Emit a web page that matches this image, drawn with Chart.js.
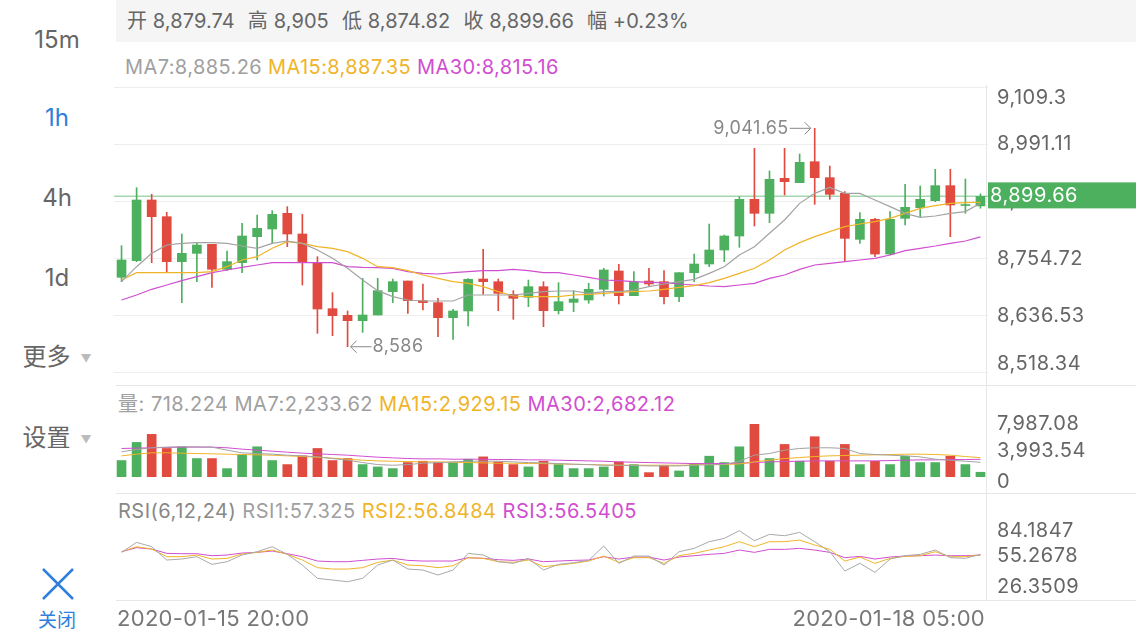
<!DOCTYPE html>
<html>
<head>
<meta charset="utf-8">
<script src="https://cdn.jsdelivr.net/npm/chart.js@4.4.1/dist/chart.umd.min.js"></script>
<style>
  body { margin: 0; width: 1136px; height: 640px; overflow: hidden; background: #fff; position: relative;
         font-family: Inter, "Noto Sans CJK SC", sans-serif; color: #666; }
  .abs { position: absolute; }
  canvas { position: absolute; }
  .side { position: absolute; left: 0; width: 114px; text-align: center; font-size: 24px; line-height: 30px; color: #666; }
  .side.on { color: #2f7fdc; }
  .side .tri { font-size: 11px; color: #bbb; margin-left: 10px; vertical-align: middle; }
  .topbar { left: 116px; top: 0; width: 1020px; height: 42px; background: #f5f5f5; font-size: 20px; line-height: 42px; letter-spacing: 0.1px; white-space: nowrap; }
  .topbar span { margin-left: 13px; }
  .topbar span:first-child { margin-left: 11px; }
  .row { font-size: 20px; line-height: 24px; white-space: nowrap; letter-spacing: 0.4px; }
  .row span { margin-right: 6px; }
  .hline { height: 1px; background: #e6e6e6; left: 116px; width: 1020px; }
  .vline { width: 1px; background: #e6e6e6; left: 986px; top: 85px; height: 515px; }
  .gray { color: #a0a0a0; } .orange { color: #f0b429; } .magenta { color: #d04ed0; }
</style>
</head>
<body>

<div class="side" style="top:25px">15m</div>
<div class="side on" style="top:103px">1h</div>
<div class="side" style="top:183px">4h</div>
<div class="side" style="top:263px">1d</div>
<div class="side" style="top:342px">更多<span class="tri">▼</span></div>
<div class="side" style="top:423px">设置<span class="tri">▼</span></div>
<svg class="abs" style="left:40px;top:566px" width="36" height="36">
  <path d="M3 3 L33 33 M33 3 L3 33" stroke="#2f7fdc" stroke-width="2.5" fill="none"/>
</svg>
<div class="side on" style="top:606px;font-size:19px">关闭</div>

<div class="abs topbar"><span>开 8,879.74</span><span>高 8,905</span><span>低 8,874.82</span><span>收 8,899.66</span><span>幅 +0.23%</span></div>
<div class="abs row" style="left:125px;top:55px"><span class="gray">MA7:8,885.26</span><span class="orange">MA15:8,887.35</span><span class="magenta">MA30:8,815.16</span></div>
<div class="abs row" style="left:118px;top:392px;letter-spacing:0.5px"><span class="gray">量: 718.224</span><span class="gray">MA7:2,233.62</span><span class="orange">MA15:2,929.15</span><span class="magenta">MA30:2,682.12</span></div>
<div class="abs row" style="left:118px;top:499px;letter-spacing:0.5px"><span style="color:#888">RSI(6,12,24)</span><span class="gray">RSI1:57.325</span><span class="orange">RSI2:56.8484</span><span class="magenta">RSI3:56.5405</span></div>

<div class="abs hline" style="top:385px"></div>
<div class="abs hline" style="top:493px"></div>
<div class="abs hline" style="top:600px"></div>
<div class="abs vline"></div>

<canvas id="priceChart" width="1022" height="305" style="left:114px;top:80px"></canvas>
<canvas id="volChart" width="1022" height="108" style="left:114px;top:385px"></canvas>
<canvas id="rsiChart" width="1022" height="147" style="left:114px;top:493px"></canvas>

<script>
// hourly candles, 1h view
const times = [
  '2020-01-15 20:00', '2020-01-15 21:00', '2020-01-15 22:00', '2020-01-15 23:00',
  '2020-01-16 00:00', '2020-01-16 01:00', '2020-01-16 02:00', '2020-01-16 03:00', '2020-01-16 04:00', '2020-01-16 05:00',
  '2020-01-16 06:00', '2020-01-16 07:00', '2020-01-16 08:00', '2020-01-16 09:00', '2020-01-16 10:00', '2020-01-16 11:00',
  '2020-01-16 12:00', '2020-01-16 13:00', '2020-01-16 14:00', '2020-01-16 15:00', '2020-01-16 16:00', '2020-01-16 17:00',
  '2020-01-16 18:00', '2020-01-16 19:00', '2020-01-16 20:00', '2020-01-16 21:00', '2020-01-16 22:00', '2020-01-16 23:00',
  '2020-01-17 00:00', '2020-01-17 01:00', '2020-01-17 02:00', '2020-01-17 03:00', '2020-01-17 04:00', '2020-01-17 05:00',
  '2020-01-17 06:00', '2020-01-17 07:00', '2020-01-17 08:00', '2020-01-17 09:00', '2020-01-17 10:00', '2020-01-17 11:00',
  '2020-01-17 12:00', '2020-01-17 13:00', '2020-01-17 14:00', '2020-01-17 15:00', '2020-01-17 16:00', '2020-01-17 17:00',
  '2020-01-17 18:00', '2020-01-17 19:00', '2020-01-17 20:00', '2020-01-17 21:00', '2020-01-17 22:00', '2020-01-17 23:00',
  '2020-01-18 00:00', '2020-01-18 01:00', '2020-01-18 02:00', '2020-01-18 03:00', '2020-01-18 04:00', '2020-01-18 05:00'
];

const opens = [8730.8, 8765.6, 8892.1, 8857.3, 8763.5, 8780.8, 8799.6, 8747.5, 8761.4, 8815.6,
  8831.6, 8864.3, 8821.2, 8762.1, 8665.4, 8651.5, 8640.4, 8652.2, 8700.9, 8723.1,
  8682.1, 8678.0, 8646.7, 8660.6, 8727.3, 8721.7, 8695.3, 8689.1, 8711.3, 8661.2,
  8678.6, 8683.5, 8705.8, 8744.0, 8692.5, 8723.1, 8721.7, 8690.5, 8740.5, 8758.6,
  8787.8, 8817.0, 8893.5, 8864.3, 8937.3, 8928.2, 8972.0, 8938.7, 8906.0, 8810.0,
  8851.8, 8779.4, 8853.9, 8876.1, 8890.7, 8922.0, 8880.5, 8879.74];
const highs = [8796.8, 8917.8, 8903.9, 8866.4, 8821.2, 8803.8, 8799.6, 8785.7, 8843.4, 8860.8,
  8869.8, 8878.2, 8862.2, 8773.9, 8698.8, 8660.6, 8728.7, 8728.7, 8727.3, 8723.1,
  8716.9, 8687.0, 8664.0, 8728.0, 8789.2, 8727.3, 8703.0, 8725.2, 8721.7, 8719.6,
  8703.0, 8718.3, 8749.6, 8757.9, 8742.6, 8749.6, 8744.7, 8740.5, 8779.5, 8842.0,
  8819.0, 8899.1, 8999.9, 8952.6, 8999.9, 8988.0, 9041.65, 8963.0, 8909.5, 8865.7,
  8853.9, 8867.8, 8924.8, 8921.3, 8956.1, 8956.1, 8935.9, 8905];
const lows = [8721.7, 8763.5, 8761.4, 8740.5, 8678.0, 8721.7, 8709.9, 8744.7, 8740.5, 8767.0,
  8801.7, 8794.7, 8714.8, 8614.0, 8609.1, 8586, 8616.0, 8652.2, 8678.0, 8655.7,
  8662.6, 8607.0, 8601.5, 8629.3, 8695.3, 8661.2, 8643.2, 8669.6, 8627.9, 8654.3,
  8659.2, 8676.6, 8691.8, 8675.2, 8692.5, 8713.4, 8675.2, 8680.0, 8721.7, 8753.0,
  8763.5, 8793.4, 8837.9, 8844.8, 8902.5, 8928.2, 8883.1, 8893.5, 8765.5, 8801.7,
  8773.9, 8777.4, 8840.0, 8857.3, 8888.6, 8815.6, 8864.3, 8874.82];
const closes = [8767.0, 8892.1, 8857.3, 8763.5, 8780.8, 8798.2, 8747.5, 8763.5, 8817.0, 8833.0,
  8862.2, 8821.2, 8761.4, 8664.7, 8650.8, 8640.4, 8652.2, 8703.0, 8721.7, 8682.1,
  8678.0, 8646.7, 8660.6, 8726.6, 8721.7, 8697.4, 8687.0, 8711.3, 8661.2, 8680.0,
  8685.6, 8705.8, 8746.1, 8692.5, 8721.7, 8716.9, 8690.5, 8740.5, 8758.6, 8787.8,
  8817.0, 8893.5, 8864.3, 8935.2, 8930.3, 8970.7, 8938.7, 8903.9, 8812.1, 8851.8,
  8779.4, 8851.8, 8876.8, 8893.5, 8922.0, 8881.7, 8882.4, 8899.66];

const ma7 = [8721.7, 8753.0, 8780.8, 8798.2, 8801.7, 8803.1, 8803.1, 8801.7, 8796.1, 8791.3,
  8801.7, 8806.6, 8801.7, 8787.8, 8770.4, 8749.6, 8725.2, 8703.0, 8690.5, 8683.5,
  8681.4, 8681.4, 8681.4, 8693.9, 8693.9, 8693.9, 8693.9, 8697.4, 8700.9, 8702.3,
  8702.3, 8697.4, 8700.9, 8700.9, 8704.4, 8711.3, 8716.9, 8721.7, 8726.6, 8739.1,
  8753.0, 8777.4, 8794.7, 8822.6, 8850.4, 8885.1, 8906.0, 8918.5, 8906.0, 8906.0,
  8892.1, 8878.2, 8864.3, 8855.9, 8858.7, 8864.3, 8867.8, 8885.26];
const ma15 = [8725.2, 8740.5, 8740.5, 8740.5, 8740.5, 8740.5, 8742.6, 8753.0, 8766.9, 8773.9,
  8791.3, 8805.2, 8801.7, 8794.7, 8791.3, 8784.3, 8770.4, 8753.0, 8750.9, 8744.7,
  8735.6, 8728.7, 8721.7, 8718.3, 8711.3, 8700.9, 8691.8, 8690.5, 8690.5, 8690.5,
  8693.9, 8695.3, 8697.4, 8699.5, 8700.9, 8702.3, 8705.8, 8709.9, 8713.5, 8719.7,
  8728.7, 8739.1, 8749.6, 8766.9, 8787.8, 8803.1, 8815.6, 8826.0, 8836.5, 8842.0,
  8846.9, 8853.9, 8864.3, 8874.7, 8880.3, 8885.1, 8886.5, 8887.35];
const ma30 = [8683.5, 8693.9, 8705.8, 8714.8, 8723.8, 8732.2, 8740.5, 8746.1, 8751.6, 8756.5,
  8761.4, 8761.4, 8761.4, 8761.4, 8761.4, 8753.0, 8751.6, 8750.9, 8749.6, 8742.6,
  8739.1, 8737.7, 8740.5, 8742.6, 8744.7, 8744.7, 8747.5, 8744.7, 8740.5, 8740.5,
  8735.6, 8730.8, 8725.2, 8723.8, 8721.7, 8720.4, 8719.7, 8716.9, 8714.8, 8712.7,
  8711.3, 8714.8, 8718.3, 8728.7, 8735.6, 8747.5, 8756.5, 8760.0, 8763.5, 8766.9,
  8770.4, 8777.4, 8786.4, 8791.3, 8796.1, 8801.7, 8806.6, 8815.16];

const volumes = [2493, 5240, 6460, 4324, 4578, 2798, 2798, 1272, 3408, 4578,
  2493, 1882, 3205, 4324, 2493, 2798, 1882, 1526, 1272, 2187,
  2391, 2187, 2187, 2696, 3052, 2289, 1882, 1526, 2391, 1882,
  1272, 1272, 1526, 2289, 1882, 661, 1780, 916, 2035, 3154,
  2187, 4578, 7987.08, 2798, 4934, 2391, 6104, 2391, 4934, 1882,
  2391, 1882, 3154, 2187, 2187, 3154, 1882, 718.224];
const volMa7 = [3815, 4171, 4426, 4527, 4578, 4578, 4527, 4070, 3663, 3561,
  3459, 3307, 3205, 3052, 2798, 2544, 2187, 1882, 1780, 1882,
  2086, 2187, 2289, 2391, 2391, 2391, 2289, 2187, 2137, 2035,
  1933, 1882, 1780, 1780, 1730, 1679, 1679, 1679, 1780, 1882,
  1882, 2391, 3307, 3561, 4070, 4324, 4426, 4426, 4324, 3561,
  3408, 3307, 3205, 3052, 2696, 2544, 2391, 2233.62];
const volMa15 = [3205, 3459, 3663, 3663, 3612, 3561, 3510, 3459, 3408, 3357,
  3307, 3205, 3103, 3001, 2849, 2696, 2544, 2442, 2391, 2340,
  2289, 2289, 2238, 2187, 2137, 2086, 2086, 2035, 2035, 1984,
  1933, 1882, 1831, 1780, 1780, 1780, 1780, 1780, 1831, 1882,
  1882, 1984, 2289, 2544, 2798, 2950, 3103, 3205, 3256, 3307,
  3357, 3408, 3459, 3459, 3408, 3307, 3103, 2929.15];
const volMa30 = [4324, 4375, 4426, 4477, 4527, 4527, 4527, 4426, 4222, 4070,
  3917, 3764, 3612, 3510, 3408, 3307, 3154, 3001, 2900, 2798,
  2747, 2747, 2696, 2696, 2696, 2645, 2645, 2594, 2594, 2544,
  2493, 2442, 2391, 2289, 2238, 2187, 2137, 2086, 2035, 2035,
  2035, 2086, 2187, 2289, 2340, 2391, 2442, 2442, 2442, 2442,
  2442, 2493, 2544, 2594, 2594, 2645, 2645, 2682.12];

const rsi1 = [59.61, 70.95, 66.04, 50.92, 52.05, 54.70, 46.01, 49.03, 56.59, 60.37,
  66.04, 57.35, 45.25, 30.13, 28.24, 26.3509, 30.13, 45.25, 50.92, 40.71,
  39.58, 33.91, 39.58, 58.48, 56.59, 49.03, 47.14, 52.81, 39.58, 46.01,
  47.90, 50.54, 66.80, 47.14, 55.46, 55.46, 45.25, 60.37, 64.15, 71.71,
  75.49, 84.1847, 72.84, 80.03, 78.51, 82.29, 71.71, 60.37, 38.45, 47.14,
  36.93, 52.05, 55.83, 57.35, 62.26, 53.57, 52.81, 57.325];
const rsi2 = [60.37, 66.04, 63.39, 54.70, 54.70, 56.59, 52.05, 52.81, 57.72, 59.61,
  62.26, 57.35, 50.92, 42.23, 40.71, 40.71, 42.23, 48.27, 50.92, 45.25,
  44.49, 42.23, 44.49, 53.57, 52.81, 49.03, 48.27, 50.92, 43.36, 45.25,
  47.14, 49.79, 55.46, 48.27, 53.57, 53.57, 47.14, 55.83, 58.48, 62.26,
  66.04, 71.71, 66.04, 71.71, 71.71, 73.60, 67.93, 63.02, 49.79, 54.32,
  47.14, 52.81, 55.08, 55.83, 60.37, 54.70, 54.70, 56.8484];
const rsi3 = [60.37, 64.91, 63.39, 58.48, 58.10, 58.10, 55.83, 56.59, 58.86, 59.61,
  61.13, 58.10, 54.70, 49.79, 49.03, 49.03, 50.54, 52.05, 52.81, 50.54,
  49.79, 49.79, 49.79, 53.57, 52.81, 51.30, 50.54, 52.05, 49.03, 49.79,
  50.54, 50.92, 54.70, 52.05, 54.32, 54.32, 50.92, 54.32, 55.83, 57.35,
  58.48, 62.26, 59.61, 63.02, 63.02, 64.15, 62.26, 59.61, 53.57, 55.08,
  52.05, 54.32, 55.46, 55.83, 56.59, 55.83, 55.83, 56.5405];

// axis labels shown on the right
const priceTicks = [9109.3, 8991.11, 8872.92, 8754.72, 8636.53, 8518.34];
const volTicks = [7987.08, 3993.54, 0];
const rsiTicks = [84.1847, 55.2678, 26.3509];

const UP = '#4cb05f';
const DOWN = '#e04a3f';
const C_MA7 = '#a3a3a3';
const C_MA15 = '#f0b429';
const C_MA30 = '#d04ed0';
const FONT = 'Inter, "Noto Sans CJK SC", sans-serif';
const AXIS_W = 148;

Chart.defaults.font.family = FONT;
Chart.defaults.animation = false;

const candleColors = opens.map((o, i) => closes[i] >= o ? UP : DOWN);
const fmt = v => v.toLocaleString('en-US', { maximumFractionDigits: 4 });

function fixWidth(scale) { scale.width = AXIS_W; }

function drawAxisLabels(chart, scaleId, values, opt) {
  const { ctx, chartArea: a } = chart;
  const s = chart.scales[scaleId];
  ctx.save();
  ctx.font = '20px ' + FONT;
  ctx.letterSpacing = '0.5px';
  ctx.fillStyle = '#666';
  ctx.textBaseline = 'middle';
  values.forEach((v, i) => {
    let py = s.getPixelForValue(v);
    if (opt.lastShift && i === values.length - 1) py += opt.lastShift;
    if (opt.min != null) py = Math.max(py, opt.min);
    if (opt.max != null) py = Math.min(py, opt.max);
    ctx.fillText(fmt(v), a.right + 9, py);
  });
  ctx.restore();
}

function lineSet(data, color, axis, width) {
  return {
    type: 'line', data, borderColor: color, borderWidth: width || 1.2,
    pointRadius: 0, tension: 0, yAxisID: axis, order: 0
  };
}

// price panel extras: last price line, tag, high/low markers, labels
const pricePlugin = {
  id: 'pricePlugin',
  beforeDatasetsDraw(chart) {
    const { ctx, chartArea: a, scales: { y } } = chart;
    const py = y.getPixelForValue(closes[closes.length - 1]);
    ctx.save();
    ctx.strokeStyle = 'rgba(76,176,95,0.5)';
    ctx.lineWidth = 1.5;
    ctx.beginPath(); ctx.moveTo(a.left, py); ctx.lineTo(a.right, py); ctx.stroke();
    ctx.restore();
  },
  afterDraw(chart) {
    const { ctx, chartArea: a, scales: { x, y } } = chart;
    drawAxisLabels(chart, 'yg', priceTicks, { min: a.top + 11, max: a.bottom - 21 });

    const last = closes[closes.length - 1];
    const py = y.getPixelForValue(last);
    ctx.save();
    ctx.fillStyle = UP;
    ctx.fillRect(a.right, py - 14, chart.width - a.right, 26);
    ctx.fillStyle = '#fff';
    ctx.font = '20px ' + FONT;
    ctx.letterSpacing = '0.5px';
    ctx.textBaseline = 'middle';
    ctx.fillText(fmt(last), a.right + 2, py);

    // highest high / lowest low markers
    const hi = Math.max(...highs), lo = Math.min(...lows);
    const hx = x.getPixelForValue(highs.indexOf(hi)), hy = y.getPixelForValue(hi);
    const lx = x.getPixelForValue(lows.indexOf(lo)), ly = y.getPixelForValue(lo);
    ctx.strokeStyle = '#888'; ctx.fillStyle = '#888'; ctx.lineWidth = 1;
    ctx.font = '18px ' + FONT;
    ctx.letterSpacing = '0.4px';
    ctx.beginPath();
    ctx.moveTo(hx - 25, hy); ctx.lineTo(hx - 4, hy);
    ctx.moveTo(hx - 10, hy - 6); ctx.lineTo(hx - 4, hy); ctx.lineTo(hx - 10, hy + 6);
    ctx.moveTo(lx + 3, ly); ctx.lineTo(lx + 24, ly);
    ctx.moveTo(lx + 9, ly - 6); ctx.lineTo(lx + 3, ly); ctx.lineTo(lx + 9, ly + 6);
    ctx.stroke();
    ctx.textAlign = 'right';
    ctx.fillText(fmt(hi), hx - 26, hy);
    ctx.textAlign = 'left';
    ctx.fillText(fmt(lo), lx + 25, ly);
    ctx.restore();
  }
};

new Chart(document.getElementById('priceChart'), {
  type: 'bar',
  data: {
    labels: times,
    datasets: [
      lineSet(ma7, C_MA7, 'y'),
      lineSet(ma15, C_MA15, 'y'),
      lineSet(ma30, C_MA30, 'y'),
      {
        data: opens.map((o, i) => [o, closes[i]]),
        backgroundColor: candleColors, barThickness: 9, minBarLength: 1,
        grouped: false, yAxisID: 'y', order: 1
      },
      {
        data: lows.map((l, i) => [l, highs[i]]),
        backgroundColor: candleColors, barThickness: 1,
        grouped: false, yAxisID: 'y', order: 2
      }
    ]
  },
  options: {
    responsive: false,
    layout: { padding: { top: 7, bottom: 0, left: 0, right: 0 } },
    plugins: { legend: { display: false }, tooltip: { enabled: false } },
    scales: {
      x: { type: 'category', offset: true, display: false },
      y: { display: false, min: 8506.2, max: 9127.8 },
      yg: {
        position: 'right', min: 8493.5, max: 9109.3,
        afterFit: fixWidth,
        afterBuildTicks: s => { s.ticks = priceTicks.map(v => ({ value: v })); },
        ticks: { display: false },
        grid: { color: '#eeeeee', drawTicks: false },
        border: { display: false }
      }
    }
  },
  plugins: [pricePlugin]
});

new Chart(document.getElementById('volChart'), {
  type: 'bar',
  data: {
    labels: times,
    datasets: [
      lineSet(volMa7, C_MA7, 'y', 1),
      lineSet(volMa15, C_MA15, 'y', 1),
      lineSet(volMa30, C_MA30, 'y', 1),
      { data: volumes, backgroundColor: candleColors, barThickness: 9, yAxisID: 'y', order: 1 }
    ]
  },
  options: {
    responsive: false,
    layout: { padding: { top: 27, bottom: 16, left: 0, right: 0 } },
    plugins: { legend: { display: false }, tooltip: { enabled: false } },
    scales: {
      x: { type: 'category', offset: true, display: false },
      y: {
        position: 'right', min: 0, max: 9851, afterFit: fixWidth,
        ticks: { display: false }, grid: { display: false }, border: { display: false }
      }
    }
  },
  plugins: [{
    id: 'volLabels',
    afterDraw: chart => drawAxisLabels(chart, 'y', volTicks, { lastShift: 5 })
  }]
});

new Chart(document.getElementById('rsiChart'), {
  type: 'line',
  data: {
    labels: times,
    datasets: [
      lineSet(rsi1, '#a9a9a9', 'y', 1),
      lineSet(rsi2, C_MA15, 'y', 1),
      lineSet(rsi3, C_MA30, 'y', 1)
    ]
  },
  options: {
    responsive: false,
    layout: { padding: { top: 27, bottom: 42, left: 0, right: 0 } },
    plugins: { legend: { display: false }, tooltip: { enabled: false } },
    scales: {
      x: { type: 'category', offset: true, display: false },
      y: {
        position: 'right', min: 7.87, max: 96.32, afterFit: fixWidth,
        ticks: { display: false }, grid: { display: false }, border: { display: false }
      }
    }
  },
  plugins: [{
    id: 'rsiLabels',
    afterDraw(chart) {
      drawAxisLabels(chart, 'y', rsiTicks, { lastShift: 5 });
      // first and last time under the panels
      const { ctx, chartArea: a } = chart;
      ctx.save();
      ctx.font = '22px ' + FONT;
      ctx.letterSpacing = '0.3px';
      ctx.fillStyle = '#777';
      ctx.textBaseline = 'middle';
      ctx.textAlign = 'left';
      ctx.fillText(times[0], a.left + 3, a.bottom + 21);
      ctx.textAlign = 'right';
      ctx.fillText(times[times.length - 1], a.right - 3, a.bottom + 21);
      ctx.restore();
    }
  }]
});
</script>
</body>
</html>
